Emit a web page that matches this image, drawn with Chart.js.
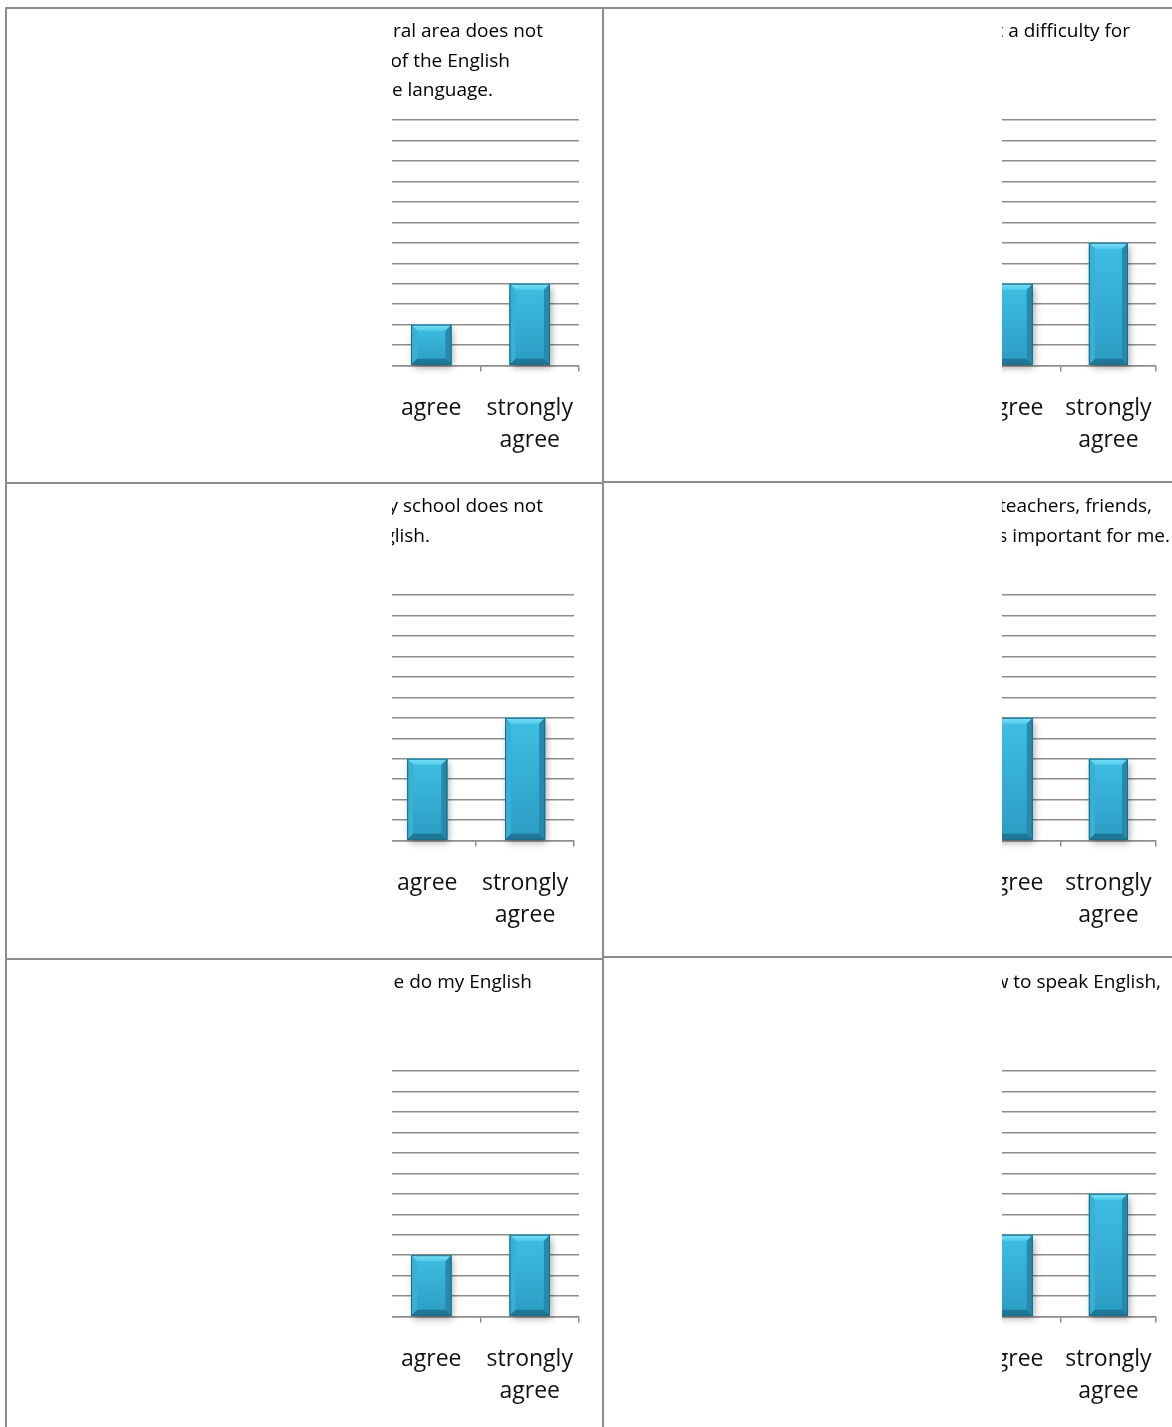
<!DOCTYPE html>
<html>
<head>
<meta charset="utf-8">
<title>Survey answers</title>
<script src="https://cdn.jsdelivr.net/npm/chart.js@4.4.1/dist/chart.umd.min.js"></script>
<style>
  html, body { margin: 0; padding: 0; background: #fff; }
  body { width: 1172px; height: 1427px; position: relative; overflow: hidden; }
  .rule { position: absolute; background: #8c8c8c; }
  canvas.answers { position: absolute; }
</style>
</head>
<body>
<script>
// answer categories (the same scale for every question)
const categories = ['agree', ['strongly', 'agree']];

// number of answers per category, one array per question
const ruralArea = [2, 4];
const difficulty = [4, 6];
const schoolEnglish = [4, 6];
const importantForMe = [6, 4];
const doMyEnglish = [3, 4];
const speakEnglish = [4, 6];

// value axis
const yMax = 12;
const yStep = 1;

// question titles, one entry per line
const ruralAreaTitle = ['rural area does not', 'of the English', 'the language.'];
const difficultyTitle = ['not a difficulty for', '', ''];
const schoolEnglishTitle = ['my school does not', 'English.', ''];
const importantTitle = ['teachers, friends,', 'is important for me.', ''];
const doMyEnglishTitle = ['me do my English', '', ''];
const speakEnglishTitle = ['how to speak English,', '', ''];

const GREY = '#8d8d8d';

// table rules around the six cells
const rules = [
  [5, 7, 1167, 2], [5, 482, 598, 2], [603, 481, 569, 2], [5, 958, 598, 2], [603, 956, 569, 2],
  [5, 7, 2, 1420], [602, 7, 2, 1420]
];
rules.forEach(([x, y, w, h]) => {
  const d = document.createElement('div');
  d.className = 'rule';
  Object.assign(d.style, { left: x + 'px', top: y + 'px', width: w + 'px', height: h + 'px' });
  document.body.appendChild(d);
});

// where each chart sits; `cut` hides the left part of the canvas
const panels = [
  { values: ruralArea, title: ruralAreaTitle, ends: [163, 130, 113], left: 380, top: 9, width: 222, cut: 12, padRight: 23 },
  { values: difficulty, title: difficultyTitle, ends: [168], left: 962, top: 9, width: 218, cut: 40, padRight: 24 },
  { values: schoolEnglish, title: schoolEnglishTitle, ends: [167, 54], left: 376, top: 484, width: 226, cut: 16, padRight: 28 },
  { values: importantForMe, title: importantTitle, ends: [190, 208], left: 962, top: 484, width: 218, cut: 40, padRight: 24 },
  { values: doMyEnglish, title: doMyEnglishTitle, ends: [152], left: 380, top: 960, width: 222, cut: 12, padRight: 23 },
  { values: speakEnglish, title: speakEnglishTitle, ends: [199], left: 962, top: 960, width: 218, cut: 40, padRight: 24 }
];

// title lines drawn right-aligned above the plot
const sideTitle = {
  id: 'sideTitle',
  afterDraw(chart, args, opts) {
    const ctx = chart.ctx;
    ctx.save();
    ctx.font = opts.font;
    ctx.fillStyle = '#000';
    ctx.textAlign = 'right';
    ctx.textBaseline = 'alphabetic';
    opts.lines.forEach((line, i) => {
      if (line && opts.ends[i] !== undefined) ctx.fillText(line, opts.ends[i], opts.top + i * opts.lineHeight);
    });
    ctx.restore();
  }
};

// bevelled look for the bars + soft drop shadow
const bevelBars = {
  id: 'bevelBars',
  beforeDatasetsDraw(chart) {
    const ctx = chart.ctx;
    ctx.save();
    ctx.shadowColor = 'rgba(0,0,0,0.35)';
    ctx.shadowBlur = 7;
    ctx.shadowOffsetX = 2;
    ctx.shadowOffsetY = 3;
    ctx.fillStyle = '#2b96bb';
    chart.getDatasetMeta(0).data.forEach(el => {
      const { x, y, base, width } = el.getProps(['x', 'y', 'base', 'width'], true);
      ctx.fillRect(x - width / 2, y, width, base - y);
    });
    ctx.restore();
  },
  afterDatasetsDraw(chart) {
    const ctx = chart.ctx;
    chart.getDatasetMeta(0).data.forEach(el => {
      const { x, y, base, width } = el.getProps(['x', 'y', 'base', 'width'], true);
      const l = x - width / 2, r = x + width / 2, t = y, b = base;
      const bv = Math.min(6, (b - t) / 3);
      const poly = (pts, fill) => {
        ctx.beginPath();
        ctx.moveTo(pts[0], pts[1]);
        for (let i = 2; i < pts.length; i += 2) ctx.lineTo(pts[i], pts[i + 1]);
        ctx.closePath();
        ctx.fillStyle = fill;
        ctx.fill();
      };
      ctx.save();
      const face = ctx.createLinearGradient(0, t, 0, b);
      face.addColorStop(0, '#3fbfe2');
      face.addColorStop(1, '#2b9cc2');
      ctx.fillStyle = face;
      ctx.fillRect(l, t, width, b - t);
      const top = ctx.createLinearGradient(0, t, 0, t + bv);
      top.addColorStop(0, '#7fe0f6');
      top.addColorStop(1, '#52cbeb');
      poly([l, t, r, t, r - bv, t + bv, l + bv, t + bv], top);
      poly([l, t, l + bv, t + bv, l + bv, b - bv, l, b], '#39b0d5');
      poly([r, t, r, b, r - bv, b - bv, r - bv, t + bv], '#2789ad');
      poly([l, b, l + bv, b - bv, r - bv, b - bv, r, b], '#1f7797');
      ctx.strokeStyle = '#1c6a86';
      ctx.lineWidth = 1;
      ctx.strokeRect(l + 0.5, t + 0.5, width - 1, b - t - 1);
      ctx.restore();
    });
  }
};

panels.forEach(p => {
  const canvas = document.createElement('canvas');
  canvas.className = 'answers';
  canvas.width = p.width;
  canvas.height = 473;
  Object.assign(canvas.style, {
    left: p.left + 'px', top: p.top + 'px',
    clipPath: `inset(0 0 0 ${p.cut}px)`
  });
  document.body.appendChild(canvas);

  new Chart(canvas, {
    type: 'bar',
    data: {
      labels: categories,
      datasets: [{
        data: p.values,
        backgroundColor: '#36abd0',
        borderWidth: 0,
        categoryPercentage: 1,
        barPercentage: 0.41
      }]
    },
    plugins: [sideTitle, bevelBars],
    options: {
      responsive: false,
      animation: false,
      events: [],
      layout: { padding: { top: 111, right: p.padRight, bottom: 4, left: 0 } },
      plugins: {
        legend: { display: false },
        tooltip: { enabled: false },
        sideTitle: {
          lines: p.title,
          ends: p.ends,
          font: '19px "Open Sans"',
          top: 28,
          lineHeight: 29.5
        }
      },
      scales: {
        x: {
          offset: true,
          grid: { display: true, offset: true, drawOnChartArea: false, drawTicks: true, tickLength: 6, color: GREY, lineWidth: 1.5 },
          border: { display: true, color: GREY, width: 1.5 },
          ticks: {
            color: '#111',
            font: { family: 'Open Sans', size: 23, lineHeight: 1.4 },
            padding: 21,
            maxRotation: 0,
            autoSkip: false
          }
        },
        y: {
          min: 0,
          max: yMax,
          ticks: { display: false, stepSize: yStep },
          grid: { color: GREY, lineWidth: 1.5, drawTicks: false },
          border: { display: false }
        }
      }
    }
  });
});
</script>
</body>
</html>
